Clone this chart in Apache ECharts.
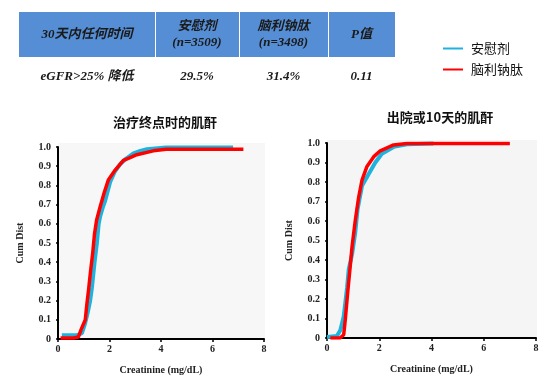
<!DOCTYPE html>
<html><head><meta charset="utf-8">
<script src="https://cdn.jsdelivr.net/npm/echarts@6/dist/echarts.min.js"></script>
<style>html,body{margin:0;padding:0;background:#fff}#c{width:560px;height:384px}</style>
</head><body><div id="c"></div>
<script>
// ---- data ----
const seriesNames = ['安慰剂', '脑利钠肽'];
const chartTitles = ['治疗终点时的肌酐', '出院或10天的肌酐'];
const xAxisName = 'Creatinine (mg/dL)';
const yAxisName = 'Cum Dist';
const tableHeader = ['30天内任何时间', '安慰剂\n(n=3509)', '脑利钠肽\n(n=3498)', 'P值'];
const tableRow = ['eGFR>25% 降低', '29.5%', '31.4%', '0.11'];

// left chart (end of treatment)
const leftPlacebo = [[0.15,0.02],[0.75,0.02],[0.93,0.03],[1.05,0.08],[1.15,0.135],[1.25,0.2],[1.32,0.27],[1.42,0.4],[1.51,0.5],[1.58,0.6],[1.64,0.64],[1.75,0.69],[1.83,0.72],[1.95,0.78],[2.03,0.82],[2.2,0.87],[2.41,0.91],[2.65,0.94],[2.93,0.967],[3.2,0.98],[3.45,0.988],[4.2,0.997],[5.5,0.998],[6.8,0.998]];
const leftNesiritide = [[0.1,0.005],[0.6,0.005],[0.79,0.01],[0.9,0.05],[1.06,0.1],[1.12,0.18],[1.19,0.26],[1.27,0.36],[1.35,0.45],[1.42,0.55],[1.5,0.62],[1.64,0.69],[1.79,0.76],[1.96,0.83],[2.22,0.88],[2.54,0.93],[2.8,0.945],[3.06,0.96],[3.7,0.98],[4.2,0.988],[5.5,0.988],[7.2,0.988]];
// right chart (discharge or day 10)
const rightPlacebo = [[0.0,0.005],[0.38,0.01],[0.51,0.04],[0.64,0.11],[0.77,0.26],[0.83,0.35],[0.96,0.43],[1.08,0.54],[1.17,0.66],[1.34,0.78],[1.59,0.84],[1.85,0.9],[2.1,0.945],[2.55,0.98],[3.06,0.993],[4.08,0.998]];
const rightNesiritide = [[0.13,0.0],[0.5,0.0],[0.64,0.017],[0.7,0.094],[0.79,0.23],[0.89,0.37],[0.96,0.47],[1.08,0.6],[1.21,0.72],[1.34,0.81],[1.53,0.88],[1.79,0.93],[2.04,0.96],[2.55,0.99],[3.06,0.998],[5.0,0.998],[7.0,0.998]];

const yTickLabels = ['0','0.1','0.2','0.3','0.4','0.5','0.6','0.7','0.8','0.9','1.0'];
const xTickLabels = ['0','2','4','6','8'];

// ---- styling ----
const blue = '#1db3dd', red = '#ff0000';
const serif = '"Liberation Serif", "Times New Roman", serif';
const cjk = '"Noto Sans CJK SC", sans-serif';
const chart = echarts.init(document.getElementById('c'));

const grids = [
  {left: 58, right: 296, top: 147, bottom: 45},
  {left: 327, right: 24, top: 143, bottom: 46}
];

function xAxis(i) {
  return {
    gridIndex: i, type: 'value', min: 0, max: 8, interval: 2,
    name: xAxisName, nameLocation: 'middle', nameGap: 26,
    nameTextStyle: {fontFamily: serif, fontWeight: 'bold', fontSize: 10, color: '#222'},
    axisLine: {show: true, onZero: false, lineStyle: {color: '#000', width: 2}},
    axisTick: {show: true, length: 3, lineStyle: {color: '#000', width: 1.5}},
    axisLabel: {fontFamily: serif, fontWeight: 'bold', fontSize: 10, color: '#222', margin: 5,
      formatter: v => xTickLabels[Math.round(v / 2)]},
    splitLine: {show: false}
  };
}
function yAxis(i) {
  return {
    gridIndex: i, type: 'value', min: 0, max: 1, interval: 0.1,
    name: yAxisName, nameLocation: 'middle', nameGap: 33, nameRotate: 90,
    nameTextStyle: {fontFamily: serif, fontWeight: 'bold', fontSize: 10, color: '#222'},
    axisLine: {show: true, onZero: false, lineStyle: {color: '#000', width: 2}},
    axisTick: {show: true, length: 2, lineStyle: {color: '#000', width: 1.5}},
    axisLabel: {fontFamily: serif, fontWeight: 'bold', fontSize: 10, color: '#222', margin: 7,
      formatter: v => yTickLabels[Math.round(v * 10)]},
    splitLine: {show: false}
  };
}
function line(name, data, i, color, w, z) {
  return {name, type: 'line', xAxisIndex: i, yAxisIndex: i, data, showSymbol: false,
    symbol: 'none', lineStyle: {color, width: w}, itemStyle: {color}, z, animation: false};
}

// table graphics
const colEdges = [19, 155, 239, 328, 395];
const hdrTop = 12, hdrBot = 57, rowY = 77;
const tfont = 'italic bold 13px "Liberation Serif", "Noto Sans CJK SC", serif';
const graphic = [];
graphic.push({type: 'rect', shape: {x: 58, y: 143, width: 207, height: 196}, style: {fill: '#f7f7f7'}, z: -10});
graphic.push({type: 'rect', shape: {x: 327, y: 140, width: 210, height: 198}, style: {fill: '#f5f5f5'}, z: -10});
for (let k = 0; k < 4; k++) {
  const x0 = colEdges[k], x1 = colEdges[k + 1];
  graphic.push({type: 'rect', shape: {x: x0 + (k ? 1 : 0), y: hdrTop, width: x1 - x0 - (k ? 1 : 0), height: hdrBot - hdrTop},
    style: {fill: '#558ed5'}, z: -5});
  graphic.push({type: 'text', x: (x0 + x1) / 2, y: (hdrTop + hdrBot) / 2,
    style: {text: tableHeader[k], align: 'center', verticalAlign: 'middle', fill: '#1a1a1a',
      font: tfont, lineHeight: 16}});
  graphic.push({type: 'text', x: (x0 + x1) / 2, y: rowY,
    style: {text: tableRow[k], align: 'center', verticalAlign: 'middle', fill: '#1a1a1a', font: tfont}});
}

chart.setOption({
  animation: false,
  title: [
    {text: chartTitles[0], left: 160, top: 111, textAlign: 'center',
      textStyle: {fontFamily: cjk, fontWeight: 'bold', fontSize: 13, color: '#111'}},
    {text: chartTitles[1], left: 435, top: 106, textAlign: 'center',
      textStyle: {fontFamily: cjk, fontWeight: 'bold', fontSize: 13, color: '#111'}}
  ],
  legend: {
    orient: 'vertical', left: 443, top: 42, padding: 0, itemWidth: 20, itemHeight: 2, itemGap: 8, icon: 'rect',
    data: seriesNames, selectedMode: false,
    textStyle: {fontFamily: cjk, fontSize: 13, color: '#111', padding: [0, 0, 0, 3]}
  },
  grid: grids,
  xAxis: [xAxis(0), xAxis(1)],
  yAxis: [yAxis(0), yAxis(1)],
  graphic,
  series: [
    line(seriesNames[0], leftPlacebo, 0, blue, 4, 2),
    line(seriesNames[1], leftNesiritide, 0, red, 3.5, 3),
    line(seriesNames[0], rightPlacebo, 1, blue, 4, 2),
    line(seriesNames[1], rightNesiritide, 1, red, 3.5, 3)
  ]
});
</script></body></html>
